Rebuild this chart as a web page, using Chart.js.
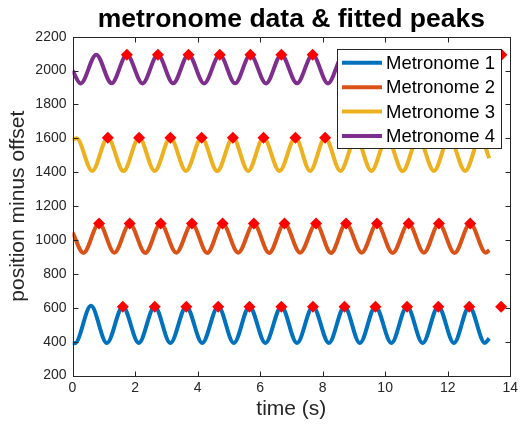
<!DOCTYPE html>
<html>
<head>
<meta charset="utf-8">
<script src="https://cdn.jsdelivr.net/npm/chart.js@4.4.1/dist/chart.umd.min.js"></script>
<style>
  body { margin: 0; background: #fff; }
</style>
</head>
<body>
<canvas id="metroChart" width="522" height="424"></canvas>
<script>
var m1Time = [0, 0.08, 0.59, 1.10, 1.61, 2.12, 2.63, 3.13, 3.64, 4.15, 4.66, 5.16, 5.66, 6.17, 6.68, 7.18, 7.69, 8.20, 8.70, 9.19, 9.69, 10.20, 10.70, 11.20, 11.70, 12.20, 12.69, 13.19, 13.33];
var m1Pos  = [393, 391, 612, 392, 607, 393, 608, 392, 607, 393, 608, 392, 607, 393, 607, 392, 608, 393, 607, 392, 607, 393, 608, 392, 607, 393, 607, 393, 420];

var m2Time = [0, 0.35, 0.85, 1.34, 1.83, 2.33, 2.82, 3.32, 3.82, 4.31, 4.80, 5.30, 5.80, 6.29, 6.78, 7.28, 7.79, 8.27, 8.75, 9.25, 9.74, 10.24, 10.75, 11.24, 11.72, 12.22, 12.72, 13.22, 13.33];
var m2Pos  = [1045, 924, 1097, 925, 1096, 924, 1097, 925, 1096, 924, 1097, 925, 1096, 924, 1097, 925, 1096, 924, 1097, 925, 1096, 924, 1097, 925, 1096, 924, 1097, 925, 940];

var m3Time = [0, 0.13, 0.63, 1.13, 1.63, 2.13, 2.63, 3.13, 3.63, 4.13, 4.63, 5.13, 5.62, 6.11, 6.62, 7.13, 7.60, 8.08, 8.57, 9.07, 9.56, 10.06, 10.56, 11.06, 11.56, 12.05, 12.56, 13.05, 13.33];
var m3Pos  = [1590, 1600, 1408, 1604, 1407, 1604, 1408, 1603, 1408, 1604, 1407, 1604, 1408, 1603, 1408, 1604, 1407, 1604, 1408, 1603, 1408, 1604, 1407, 1604, 1408, 1603, 1408, 1604, 1483];

var m4Time = [0, 0.26, 0.76, 1.25, 1.74, 2.24, 2.73, 3.22, 3.71, 4.21, 4.71, 5.20, 5.69, 6.19, 6.68, 7.18, 7.68, 8.17, 8.67, 9.16, 9.66, 10.15, 10.65, 11.14, 11.64, 12.13, 12.63, 13.13, 13.33];
var m4Pos  = [2000, 1924, 2094, 1925, 2093, 1924, 2093, 1925, 2094, 1924, 2093, 1925, 2093, 1924, 2094, 1925, 2093, 1924, 2093, 1925, 2094, 1924, 2093, 1925, 2093, 1924, 2094, 1925, 1985];

// fitted peaks (red diamonds)
var pk1Time = [1.61, 2.63, 3.64, 4.66, 5.66, 6.68, 7.69, 8.70, 9.69, 10.70, 11.70, 12.69, 13.71];
var pk1Pos  = [607, 607, 607, 607, 607, 607, 607, 607, 607, 607, 607, 607, 606];
var pk2Time = [0.85, 1.83, 2.82, 3.82, 4.80, 5.80, 6.78, 7.79, 8.75, 9.74, 10.75, 11.72, 12.72];
var pk2Pos  = [1097, 1097, 1097, 1097, 1097, 1097, 1097, 1097, 1097, 1097, 1097, 1097, 1097];
var pk3Time = [1.13, 2.13, 3.13, 4.13, 5.13, 6.11, 7.13, 8.08, 9.07, 10.06, 11.06, 12.05, 13.05];
var pk3Pos  = [1604, 1604, 1604, 1604, 1604, 1604, 1604, 1604, 1604, 1604, 1604, 1604, 1604];
var pk4Time = [1.74, 2.73, 3.71, 4.71, 5.69, 6.68, 7.68, 8.67, 9.66, 10.65, 11.64, 12.63, 13.72];
var pk4Pos  = [2094, 2094, 2094, 2094, 2094, 2094, 2094, 2094, 2094, 2094, 2094, 2094, 2094];

var seriesNames = ["Metronome 1", "Metronome 2", "Metronome 3", "Metronome 4"];
var seriesColors = ['#0072BD', '#D95319', '#EDB120', '#7E2F8E'];
var xTicks = [0, 2, 4, 6, 8, 10, 12, 14];
var yTicks = [200, 400, 600, 800, 1000, 1200, 1400, 1600, 1800, 2000, 2200];

var FONT = '"Liberation Sans", Arial, sans-serif';

function pts(t, v) {
    return t.map(function (x, i) { return {x: x, y: v[i]}; });
}

var lineSets = [[m1Time, m1Pos], [m2Time, m2Pos], [m3Time, m3Pos], [m4Time, m4Pos]];
var peakSets = [[pk1Time, pk1Pos], [pk2Time, pk2Pos], [pk3Time, pk3Pos], [pk4Time, pk4Pos]];

var datasets = [];
lineSets.forEach(function (s, i) {
    datasets.push({
        label: seriesNames[i],
        data: pts(s[0], s[1]),
        borderColor: seriesColors[i],
        backgroundColor: seriesColors[i],
        borderWidth: 4,
        pointRadius: 0,
        cubicInterpolationMode: 'monotone',
        showLine: true,
        order: 2
    });
});
peakSets.forEach(function (s, i) {
    datasets.push({
        label: 'peaks ' + (i + 1),
        data: pts(s[0], s[1]),
        showLine: false,
        pointStyle: 'rectRot',
        pointRadius: 6,
        pointBackgroundColor: '#FF0000',
        pointBorderColor: '#FF0000',
        pointBorderWidth: 0,
        order: 1
    });
});

// axes box with inward tick marks (matlab style) + legend drawn on top of the data
var framePlugin = {
    id: 'frame',
    afterDatasetsDraw: function (chart) {
        var ctx = chart.ctx, a = chart.chartArea;
        var xs = chart.scales.x, ys = chart.scales.y;
        var L = Math.round(a.left) + 0.5, R = Math.round(a.right) + 0.5;
        var T = Math.round(a.top) + 0.5, B = Math.round(a.bottom) + 0.5;
        ctx.save();
        ctx.strokeStyle = '#262626';
        ctx.lineWidth = 1;
        ctx.strokeRect(L, T, R - L, B - T);
        ctx.beginPath();
        xTicks.forEach(function (v) {
            var px = Math.round(xs.getPixelForValue(v)) + 0.5;
            ctx.moveTo(px, B); ctx.lineTo(px, B - 5);
            ctx.moveTo(px, T); ctx.lineTo(px, T + 5);
        });
        yTicks.forEach(function (v) {
            var py = Math.round(ys.getPixelForValue(v)) + 0.5;
            ctx.moveTo(L, py); ctx.lineTo(L + 5, py);
            ctx.moveTo(R, py); ctx.lineTo(R - 5, py);
        });
        ctx.stroke();

        var lx = 337.5, ly = 49.5, lw = 164, lh = 99;
        ctx.fillStyle = '#fff';
        ctx.fillRect(lx, ly, lw, lh);
        ctx.strokeRect(lx, ly, lw, lh);
        ctx.font = '18.5px ' + FONT;
        ctx.textBaseline = 'middle';
        ctx.textAlign = 'left';
        for (var i = 0; i < 4; i++) {
            var ry = 62.8 + i * 24.4;
            ctx.strokeStyle = seriesColors[i];
            ctx.lineWidth = 4;
            ctx.beginPath();
            ctx.moveTo(342, ry); ctx.lineTo(382, ry);
            ctx.stroke();
            ctx.fillStyle = '#000';
            ctx.fillText(seriesNames[i], 386, ry + 1);
        }
        ctx.restore();
    }
};

var ctx = document.getElementById('metroChart').getContext('2d');
var chart = new Chart(ctx, {
    type: 'scatter',
    data: { datasets: datasets },
    plugins: [framePlugin],
    options: {
        responsive: false,
        animation: false,
        devicePixelRatio: 1,
        layout: { padding: { top: 0, right: 9, left: 0, bottom: 0 } },
        plugins: {
            legend: { display: false },
            tooltip: { enabled: false },
            title: {
                display: true,
                text: 'metronome data & fitted peaks',
                fullSize: false,
                color: '#000',
                font: { family: FONT, size: 26.5, weight: 'bold' },
                padding: { top: 3.5, bottom: 1.4 }
            }
        },
        scales: {
            x: {
                type: 'linear',
                min: 0, max: 14,
                grid: { display: false, drawTicks: false },
                border: { display: false },
                afterFit: function (s) { s.height = 48.4; },
                afterBuildTicks: function (s) { s.ticks = xTicks.map(function (v) { return {value: v}; }); },
                ticks: {
                    color: '#262626',
                    padding: 4,
                    maxRotation: 0,
                    font: { family: FONT, size: 14 },
                    callback: function (v) { return String(v); }
                },
                title: {
                    display: true,
                    text: 'time (s)',
                    color: '#262626',
                    font: { family: FONT, size: 21 },
                    padding: { top: 0, bottom: 2 }
                }
            },
            y: {
                type: 'linear',
                min: 200, max: 2200,
                grid: { display: false, drawTicks: false },
                border: { display: false },
                afterFit: function (s) { s.width = 72.5; },
                afterBuildTicks: function (s) { s.ticks = yTicks.map(function (v) { return {value: v}; }); },
                ticks: {
                    color: '#262626',
                    padding: 6,
                    font: { family: FONT, size: 14 },
                    callback: function (v) { return String(v); }
                },
                title: {
                    display: true,
                    text: 'position minus offset',
                    color: '#262626',
                    font: { family: FONT, size: 21 },
                    padding: { top: 6, bottom: 0 }
                }
            }
        }
    }
});
</script>
</body>
</html>
